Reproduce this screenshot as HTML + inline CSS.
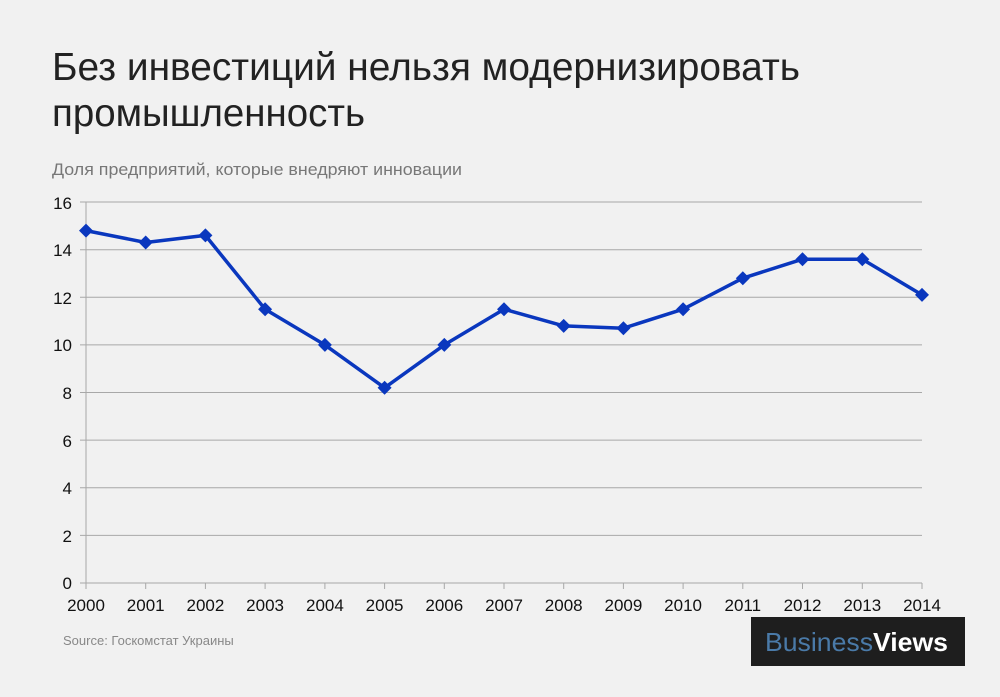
<!DOCTYPE html>
<html><head><meta charset="utf-8"><style>
body{margin:0;width:1000px;height:692px;background:#f1f1f1;overflow:hidden;font-family:"Liberation Sans",sans-serif}
</style></head><body>
<svg width="1000" height="692" xmlns="http://www.w3.org/2000/svg" font-family="Liberation Sans, sans-serif">
<text x="52" y="80" font-size="39" fill="#222" textLength="748" lengthAdjust="spacingAndGlyphs">Без инвестиций нельзя модернизировать</text>
<text x="52" y="126" font-size="39" fill="#222" textLength="313" lengthAdjust="spacingAndGlyphs">промышленность</text>
<text x="52" y="175" font-size="17" fill="#777" textLength="410" lengthAdjust="spacingAndGlyphs">Доля предприятий, которые внедряют инновации</text>
<g stroke="#a8a8a8" stroke-width="1">
<line x1="80" x2="922" y1="202" y2="202"/><line x1="80" x2="922" y1="249.7" y2="249.7"/>
<line x1="80" x2="922" y1="297.3" y2="297.3"/><line x1="80" x2="922" y1="344.9" y2="344.9"/>
<line x1="80" x2="922" y1="392.5" y2="392.5"/><line x1="80" x2="922" y1="440.1" y2="440.1"/>
<line x1="80" x2="922" y1="487.8" y2="487.8"/><line x1="80" x2="922" y1="535.4" y2="535.4"/>
<line x1="80" x2="922" y1="583" y2="583"/><line x1="86" x2="86" y1="202" y2="589"/>
<g>
<line x1="145.7" x2="145.7" y1="583" y2="589"/><line x1="205.4" x2="205.4" y1="583" y2="589"/><line x1="265.1" x2="265.1" y1="583" y2="589"/><line x1="324.9" x2="324.9" y1="583" y2="589"/><line x1="384.6" x2="384.6" y1="583" y2="589"/><line x1="444.3" x2="444.3" y1="583" y2="589"/><line x1="504" x2="504" y1="583" y2="589"/><line x1="563.7" x2="563.7" y1="583" y2="589"/><line x1="623.4" x2="623.4" y1="583" y2="589"/><line x1="683.1" x2="683.1" y1="583" y2="589"/><line x1="742.8" x2="742.8" y1="583" y2="589"/><line x1="802.5" x2="802.5" y1="583" y2="589"/><line x1="862.3" x2="862.3" y1="583" y2="589"/><line x1="922" x2="922" y1="583" y2="589"/>
</g></g>
<g font-size="17" fill="#111" text-anchor="end">
<text x="72" y="209">16</text><text x="72" y="256">14</text><text x="72" y="304">12</text><text x="72" y="351">10</text><text x="72" y="399">8</text><text x="72" y="447">6</text><text x="72" y="494">4</text><text x="72" y="542">2</text><text x="72" y="589">0</text>
</g>
<g font-size="17" fill="#111" text-anchor="middle">
<text x="86" y="611">2000</text><text x="145.7" y="611">2001</text><text x="205.4" y="611">2002</text><text x="265.1" y="611">2003</text><text x="324.9" y="611">2004</text><text x="384.6" y="611">2005</text><text x="444.3" y="611">2006</text><text x="504" y="611">2007</text><text x="563.7" y="611">2008</text><text x="623.4" y="611">2009</text><text x="683.1" y="611">2010</text><text x="742.8" y="611">2011</text><text x="802.5" y="611">2012</text><text x="862.3" y="611">2013</text><text x="922" y="611">2014</text>
</g>
<polyline fill="none" stroke="#0a37be" stroke-width="3.5" stroke-linejoin="round" points="86,230.6 145.7,242.5 205.4,235.4 265.1,309.2 324.9,344.9 384.6,387.8 444.3,344.9 504,309.2 563.7,325.9 623.4,328.2 683.1,309.2 742.8,278.2 802.5,259.2 862.3,259.2 922,294.9"/>
<g fill="#0a37be">
<path d="M86 223.6l7 7-7 7-7-7z"/><path d="M145.7 235.5l7 7-7 7-7-7z"/><path d="M205.4 228.4l7 7-7 7-7-7z"/><path d="M265.1 302.2l7 7-7 7-7-7z"/><path d="M324.9 337.9l7 7-7 7-7-7z"/><path d="M384.6 380.8l7 7-7 7-7-7z"/><path d="M444.3 337.9l7 7-7 7-7-7z"/><path d="M504 302.2l7 7-7 7-7-7z"/><path d="M563.7 318.9l7 7-7 7-7-7z"/><path d="M623.4 321.2l7 7-7 7-7-7z"/><path d="M683.1 302.2l7 7-7 7-7-7z"/><path d="M742.8 271.2l7 7-7 7-7-7z"/><path d="M802.5 252.2l7 7-7 7-7-7z"/><path d="M862.3 252.2l7 7-7 7-7-7z"/><path d="M922 287.9l7 7-7 7-7-7z"/>
</g>
<text x="63" y="645" font-size="13" fill="#888">Source: Госкомстат Украины</text>
<rect x="751" y="617" width="214" height="49" fill="#1e1e1e"/>
<text x="765" y="651" font-size="26" fill="#4a7aa8" textLength="183" lengthAdjust="spacingAndGlyphs">Business<tspan fill="#fff" font-weight="bold">Views</tspan></text>
</svg>
</body></html>
